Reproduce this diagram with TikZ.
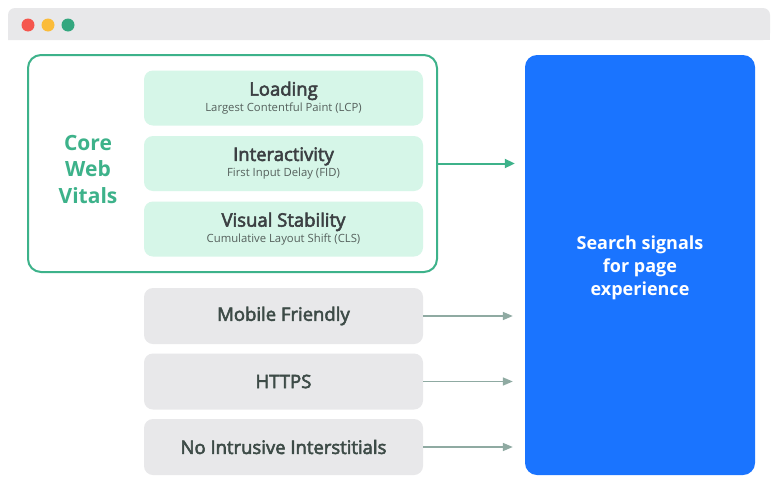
\documentclass[tikz,border=0pt]{standalone}
\usepackage{fontspec}
\setmainfont{Open Sans}
\newfontfamily\medfont[FakeBold=3]{Open Sans}
\usetikzlibrary{arrows.meta}
\definecolor{barGray}{HTML}{E8E8EA}
\definecolor{dotRed}{HTML}{F5564E}
\definecolor{dotYellow}{HTML}{FBBC3A}
\definecolor{dotGreen}{HTML}{34A77F}
\definecolor{cwvGreen}{HTML}{3DB28A}
\definecolor{cwvFill}{HTML}{D6F6E8}
\definecolor{boxGray}{HTML}{E8E8EA}
\definecolor{txtDark}{HTML}{3C4043}
\definecolor{txtSub}{HTML}{55605C}
\definecolor{txtGray}{HTML}{3D4B47}
\definecolor{arrGray}{HTML}{8FAAA2}
\definecolor{sigBlue}{HTML}{1A74FF}
\tikzset{
  x=1pt, y=1pt,
  metricbox/.style={rectangle, rounded corners=9pt, fill=cwvFill, draw=none,
    minimum width=279pt, minimum height=55pt, align=center, text=txtDark},
  otherbox/.style={rectangle, rounded corners=9pt, fill=boxGray, draw=none,
    minimum width=279pt, minimum height=56pt, align=center, text=txtGray,
    font=\medfont\fontsize{18.5}{20}\selectfont},
  greenarrow/.style={draw=cwvGreen, line width=2pt, -{Triangle[length=10pt,width=9pt]}},
  grayarrow/.style={draw=arrGray, line width=1.6pt, -{Triangle[length=10pt,width=8pt]}},
  dot/.style={circle, minimum size=13pt, inner sep=0pt, draw=none},
}
\newcommand{\mtitle}[1]{{\medfont\fontsize{18.5}{20}\selectfont #1}}
\newcommand{\msub}[1]{{\color{txtSub}\fontsize{11.3}{13}\selectfont #1}}
\begin{document}
\begin{tikzpicture}
\useasboundingbox (0,0) rectangle (777,-493);
\fill[white] (0,0) rectangle (777,-493);
% title bar
\fill[barGray, rounded corners=7pt] (8,-40) -- (8,-8) -- (770,-8) -- (770,-40) [sharp corners] -- cycle;
\fill[barGray] (8,-40) rectangle (770,-30);
\node[dot, fill=dotRed] (red) at (28,-25) {};
\node[dot, fill=dotYellow] (yellow) at (48,-25) {};
\node[dot, fill=dotGreen] (green) at (68,-25) {};
% core web vitals frame
\node[rectangle, rounded corners=13pt, draw=cwvGreen, line width=2pt,
  minimum width=409pt, minimum height=217pt] (core) at (232.5,-163.5) {};
\node[text=cwvGreen, align=center, font=\bfseries\fontsize{21}{26.5}\selectfont] (cwv) at (88,-169) {Core\\Web\\Vitals};
\node[metricbox] (lcp) at (283.5,-98) {\mtitle{Loading}\\[2pt]\msub{Largest Contentful Paint (LCP)}};
\node[metricbox] (fid) at (283.5,-163.5) {\mtitle{Interactivity}\\[2pt]\msub{First Input Delay (FID)}};
\node[metricbox] (cls) at (283.5,-229) {\mtitle{Visual Stability}\\[2pt]\msub{Cumulative Layout Shift (CLS)}};
% other signals
\node[otherbox] (mobile) at (283.5,-316) {Mobile Friendly};
\node[otherbox] (https) at (283.5,-381.5) {HTTPS};
\node[otherbox] (nii) at (283.5,-447) {No Intrusive Interstitials};
% search signals
\node[rectangle, rounded corners=12pt, fill=sigBlue, minimum width=230pt, minimum height=420pt] (signals) at (640,-265) {};
\node[text=white, align=center, font=\bfseries\fontsize{18}{23}\selectfont] (sigtext) at (640,-268)
  {Search signals\\for page\\experience};
% arrows
\draw[greenarrow, shorten >=10pt] (core.east) -- (signals.west |- core.east);
\draw[grayarrow, shorten >=12pt] (mobile.east) -- (signals.west |- mobile.east);
\draw[grayarrow, shorten >=12pt] (https.east) -- (signals.west |- https.east);
\draw[grayarrow, shorten >=12pt] (nii.east) -- (signals.west |- nii.east);
\end{tikzpicture}
\end{document}
